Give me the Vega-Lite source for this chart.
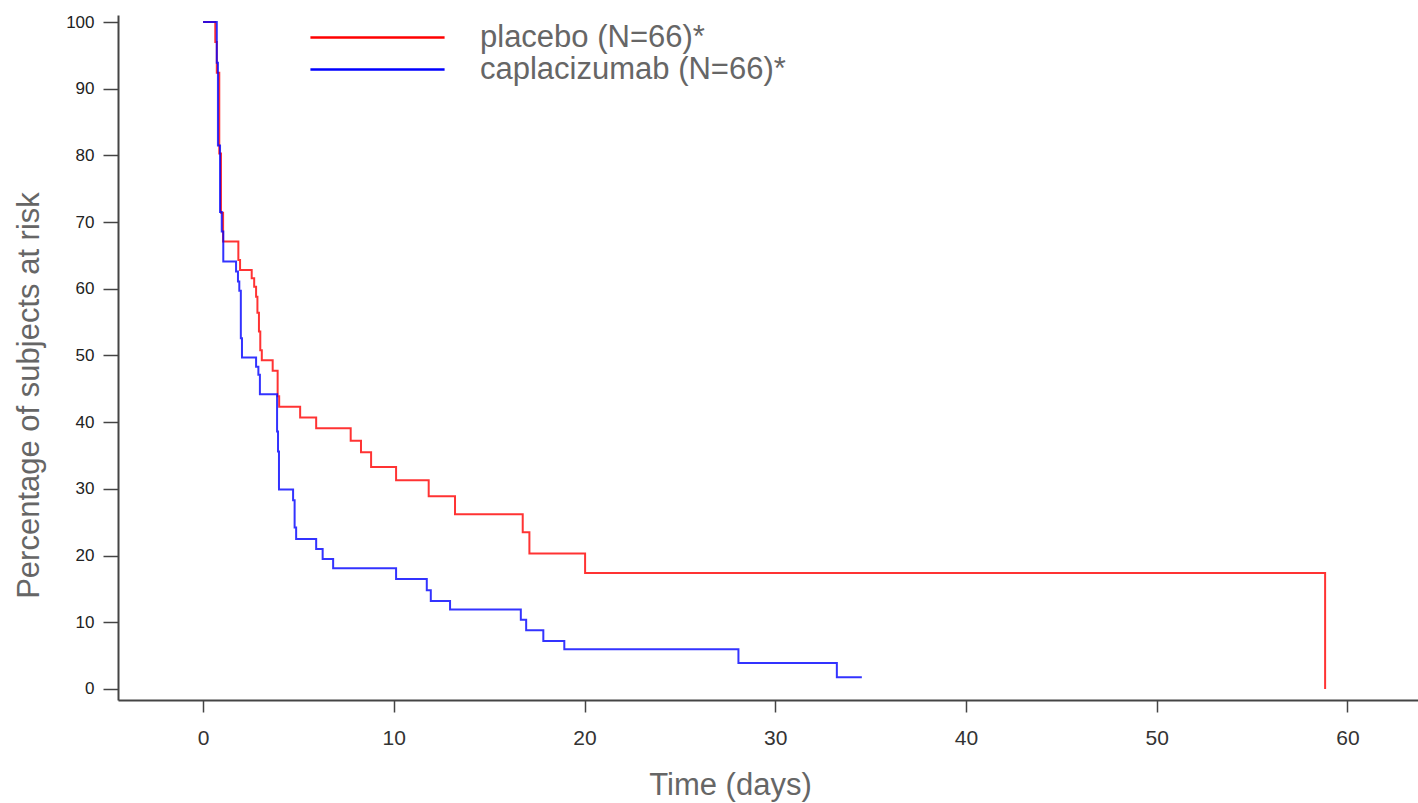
{
  "$schema": "https://vega.github.io/schema/vega-lite/v6.json",
  "width": 1300,
  "height": 685,
  "autosize": {"type": "none"},
  "padding": {"left": 118, "top": 15, "right": 0, "bottom": 103},
  "background": "white",
  "config": {
    "view": {"stroke": null},
    "axis": {"grid": false, "domainColor": "#444444", "domainWidth": 2, "tickColor": "#444444", "tickWidth": 1.5, "labelFont": "Liberation Sans", "titleFont": "Liberation Sans", "labelColor": "#222222", "titleColor": "#666666", "titleFontWeight": "normal"}
  },
  "data": {"values": [
    {"group": "placebo (N=66)*", "t": 0, "p": 100},
    {"group": "placebo (N=66)*", "t": 0.64, "p": 97},
    {"group": "placebo (N=66)*", "t": 0.72, "p": 92.4},
    {"group": "placebo (N=66)*", "t": 0.85, "p": 80.3},
    {"group": "placebo (N=66)*", "t": 0.94, "p": 71.4},
    {"group": "placebo (N=66)*", "t": 1.05, "p": 67.1},
    {"group": "placebo (N=66)*", "t": 1.85, "p": 64.3},
    {"group": "placebo (N=66)*", "t": 1.94, "p": 62.8},
    {"group": "placebo (N=66)*", "t": 2.55, "p": 61.6},
    {"group": "placebo (N=66)*", "t": 2.68, "p": 60.3},
    {"group": "placebo (N=66)*", "t": 2.78, "p": 58.8},
    {"group": "placebo (N=66)*", "t": 2.85, "p": 56.4},
    {"group": "placebo (N=66)*", "t": 2.93, "p": 53.6},
    {"group": "placebo (N=66)*", "t": 3.0, "p": 50.8},
    {"group": "placebo (N=66)*", "t": 3.08, "p": 49.3},
    {"group": "placebo (N=66)*", "t": 3.65, "p": 47.7},
    {"group": "placebo (N=66)*", "t": 3.91, "p": 43.9},
    {"group": "placebo (N=66)*", "t": 3.99, "p": 42.3},
    {"group": "placebo (N=66)*", "t": 5.09, "p": 40.7},
    {"group": "placebo (N=66)*", "t": 5.93, "p": 39.1},
    {"group": "placebo (N=66)*", "t": 7.74, "p": 37.2},
    {"group": "placebo (N=66)*", "t": 8.28, "p": 35.5},
    {"group": "placebo (N=66)*", "t": 8.81, "p": 33.3},
    {"group": "placebo (N=66)*", "t": 10.12, "p": 31.3},
    {"group": "placebo (N=66)*", "t": 11.83, "p": 28.9},
    {"group": "placebo (N=66)*", "t": 13.21, "p": 26.2},
    {"group": "placebo (N=66)*", "t": 16.76, "p": 23.5},
    {"group": "placebo (N=66)*", "t": 17.11, "p": 20.3},
    {"group": "placebo (N=66)*", "t": 20.03, "p": 17.4},
    {"group": "placebo (N=66)*", "t": 58.83, "p": 0},
    {"group": "caplacizumab (N=66)*", "t": 0, "p": 100},
    {"group": "caplacizumab (N=66)*", "t": 0.72, "p": 93.9},
    {"group": "caplacizumab (N=66)*", "t": 0.78, "p": 81.5},
    {"group": "caplacizumab (N=66)*", "t": 0.89, "p": 71.5},
    {"group": "caplacizumab (N=66)*", "t": 0.98, "p": 68.6},
    {"group": "caplacizumab (N=66)*", "t": 1.06, "p": 64.1},
    {"group": "caplacizumab (N=66)*", "t": 1.73, "p": 62.6},
    {"group": "caplacizumab (N=66)*", "t": 1.83, "p": 61.1},
    {"group": "caplacizumab (N=66)*", "t": 1.9, "p": 59.7},
    {"group": "caplacizumab (N=66)*", "t": 1.98, "p": 52.6},
    {"group": "caplacizumab (N=66)*", "t": 2.04, "p": 49.7},
    {"group": "caplacizumab (N=66)*", "t": 2.78, "p": 48.3},
    {"group": "caplacizumab (N=66)*", "t": 2.9, "p": 47.1},
    {"group": "caplacizumab (N=66)*", "t": 2.98, "p": 44.2},
    {"group": "caplacizumab (N=66)*", "t": 3.88, "p": 38.6},
    {"group": "caplacizumab (N=66)*", "t": 3.93, "p": 35.6},
    {"group": "caplacizumab (N=66)*", "t": 3.98, "p": 29.9},
    {"group": "caplacizumab (N=66)*", "t": 4.72, "p": 28.3},
    {"group": "caplacizumab (N=66)*", "t": 4.8, "p": 24.2},
    {"group": "caplacizumab (N=66)*", "t": 4.88, "p": 22.5},
    {"group": "caplacizumab (N=66)*", "t": 5.93, "p": 21.0},
    {"group": "caplacizumab (N=66)*", "t": 6.27, "p": 19.5},
    {"group": "caplacizumab (N=66)*", "t": 6.82, "p": 18.1},
    {"group": "caplacizumab (N=66)*", "t": 10.12, "p": 16.5},
    {"group": "caplacizumab (N=66)*", "t": 11.73, "p": 14.8},
    {"group": "caplacizumab (N=66)*", "t": 11.94, "p": 13.2},
    {"group": "caplacizumab (N=66)*", "t": 12.95, "p": 11.9},
    {"group": "caplacizumab (N=66)*", "t": 16.66, "p": 10.4},
    {"group": "caplacizumab (N=66)*", "t": 16.94, "p": 8.8},
    {"group": "caplacizumab (N=66)*", "t": 17.84, "p": 7.2},
    {"group": "caplacizumab (N=66)*", "t": 18.94, "p": 5.95},
    {"group": "caplacizumab (N=66)*", "t": 28.07, "p": 3.9},
    {"group": "caplacizumab (N=66)*", "t": 33.23, "p": 1.75},
    {"group": "caplacizumab (N=66)*", "t": 34.54, "p": 1.75}
  ]},
  "mark": {"type": "line", "interpolate": "step-after", "strokeWidth": 2, "opacity": 0.8},
  "encoding": {
    "x": {"field": "t", "type": "quantitative",
      "scale": {"domain": [-4.46, 63.7], "nice": false, "zero": false},
      "axis": {"values": [0, 10, 20, 30, 40, 50, 60], "title": "Time (days)", "tickSize": 12, "labelPadding": 15, "labelFontSize": 21, "labelColor": "#333333", "titleFontSize": 31, "titleX": 612, "titleY": 94, "titleBaseline": "alphabetic", "titleAnchor": null, "titleAlign": "center"}},
    "y": {"field": "p", "type": "quantitative",
      "scale": {"domain": [-1.65, 101.05], "nice": false, "zero": false},
      "axis": {"values": [0, 10, 20, 30, 40, 50, 60, 70, 80, 90, 100], "title": "Percentage of subjects at risk", "tickSize": 15, "labelPadding": 9, "labelFontSize": 17, "titleFontSize": 31, "titleX": -80, "titleY": 380, "titleBaseline": "alphabetic", "titleAlign": "center", "titleAngle": -90}},
    "color": {"field": "group", "type": "nominal",
      "scale": {"domain": ["placebo (N=66)*", "caplacizumab (N=66)*"], "range": ["#ff0000", "#0000ff"]},
      "legend": {"title": null, "orient": "none", "legendX": 244, "legendY": 7, "symbolType": "M-5,0H5", "symbolSize": 720, "symbolStrokeWidth": 2.5, "symbolOpacity": 1, "labelFont": "Liberation Sans", "labelFontSize": 31, "labelColor": "#666666", "labelOffset": 87, "labelLimit": 0, "rowPadding": 0, "padding": 0, "symbolOffset": 0}}
  }
}
